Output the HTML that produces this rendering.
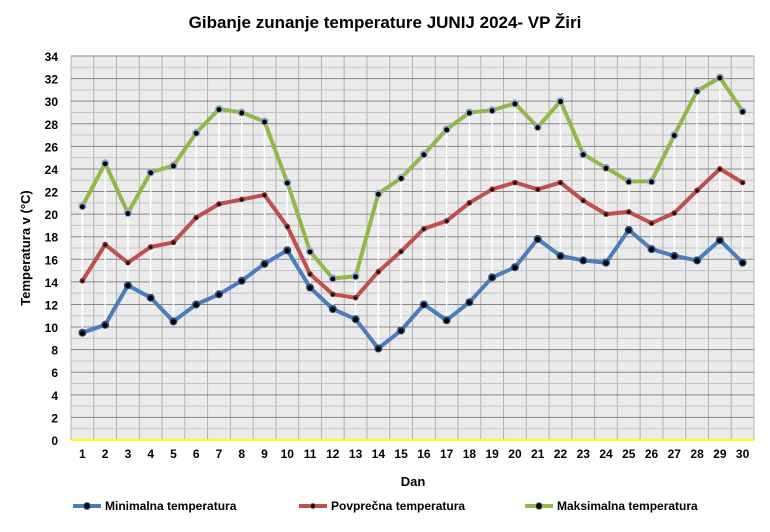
<!DOCTYPE html>
<html><head><meta charset="utf-8"><style>
body{margin:0;background:#fff;}
svg{display:block;font-family:"Liberation Sans",Arial,sans-serif;}
</style></head><body>
<svg id="c" width="770" height="532" xmlns="http://www.w3.org/2000/svg"></svg>
<script>
const mn=[9.5,10.2,13.7,12.6,10.5,12.0,12.9,14.1,15.6,16.8,13.5,11.6,10.7,8.1,9.7,12.0,10.6,12.2,14.4,15.3,17.8,16.3,15.9,15.7,18.6,16.9,16.3,15.9,17.7,15.7];
const av=[14.1,17.3,15.7,17.1,17.5,19.7,20.9,21.3,21.7,18.9,14.7,12.9,12.6,14.9,16.7,18.7,19.4,21.0,22.2,22.8,22.2,22.8,21.2,20.0,20.2,19.2,20.1,22.1,24.0,22.8];
const mx=[20.7,24.5,20.1,23.7,24.3,27.2,29.3,29.0,28.2,22.8,16.7,14.3,14.5,21.8,23.2,25.3,27.5,29.0,29.2,29.8,27.7,30.0,25.3,24.1,22.9,22.9,27.0,30.9,32.1,29.1];
const L=71,R=754,T=56,B=440,sp=(R-L)/30;
const X=d=>L+(d+0.5)*sp, Y=v=>B-v*(B-T)/34;
let s='<text x="385" y="28" text-anchor="middle" font-size="17" font-weight="bold" fill="#000">Gibanje zunanje  temperature JUNIJ 2024- VP Žiri</text>';
s+=`<rect x="${L}" y="${T}" width="${R-L}" height="${B-T}" fill="#ebebeb"/>`;
for(let i=0;i<=30;i++){const x=L+i*sp;s+=`<line x1="${x}" y1="${T}" x2="${x}" y2="${B}" stroke="#b3b3b3" stroke-width="1"/>`;}
for(let v=1;v<34;v+=2){const y=Y(v);s+=`<line x1="${L}" y1="${y}" x2="${R}" y2="${y}" stroke="#c4c4c4" stroke-width="1"/>`;}
for(let v=0;v<=34;v+=2){const y=Y(v);s+=`<line x1="${L}" y1="${y}" x2="${R}" y2="${y}" stroke="#888" stroke-width="1"/>`;
s+=`<text x="58" y="${y+5}" text-anchor="end" font-size="12" font-weight="bold">${v}</text>`;}
s+=`<line x1="${L}" y1="${B}" x2="${R}" y2="${B}" stroke="#ffff00" stroke-width="2"/>`;
for(let d=0;d<30;d++){s+=`<line x1="${X(d)}" y1="${Y(mx[d])}" x2="${X(d)}" y2="${Y(mn[d])}" stroke="#fff" stroke-width="1.5"/>`;
s+=`<text x="${X(d)}" y="458" text-anchor="middle" font-size="12" font-weight="bold">${d+1}</text>`;}
function ser(a,c,r,f){let p=a.map((v,d)=>X(d).toFixed(1)+','+Y(v).toFixed(1)).join(' ');
let o=`<polyline points="${p}" fill="none" stroke="${c}" stroke-width="4" stroke-linejoin="round"/>`;
a.forEach((v,d)=>{o+=`<circle cx="${X(d)}" cy="${Y(v)}" r="${r}" fill="${f}"/><circle cx="${X(d)}" cy="${Y(v)+0.5}" r="${r-1.5}" fill="#000"/>`;});return o;}
s+=ser(mx,'#93b84a',4,'#8fa8cc');s+=ser(av,'#c0504d',2.8,'#7a2a28');s+=ser(mn,'#4a7ebb',4,'#2b4d7a');
s+='<text x="30" y="248" transform="rotate(-90 30 248)" text-anchor="middle" font-size="13" font-weight="bold">Temperatura v (°C)</text>';
s+='<text x="413" y="486" text-anchor="middle" font-size="13" font-weight="bold">Dan</text>';
function leg(x,c,t,r){return `<line x1="${x}" y1="506" x2="${x+28}" y2="506" stroke="${c}" stroke-width="4"/><circle cx="${x+14}" cy="506" r="${r}" fill="#000" stroke="${c}" stroke-width="1"/><text x="${x+32}" y="510" font-size="12" font-weight="bold">${t}</text>`;}
s+=leg(73,'#4a7ebb','Minimalna temperatura',3.5)+leg(299,'#c0504d','Povprečna temperatura',2.5)+leg(525,'#93b84a','Maksimalna temperatura',3.5);
document.getElementById('c').innerHTML=s;
</script>
</body></html>
